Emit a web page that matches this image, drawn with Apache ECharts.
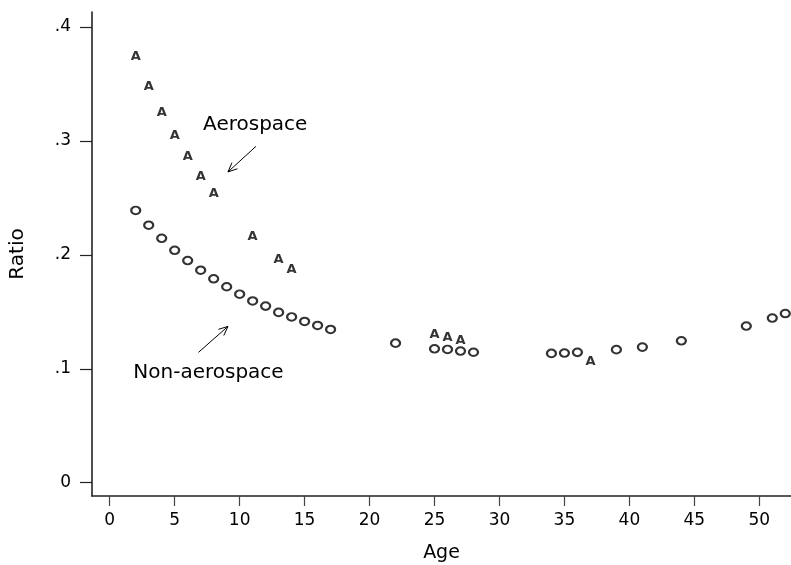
<!DOCTYPE html>
<html>
<head>
<meta charset="utf-8">
<script src="https://cdn.jsdelivr.net/npm/echarts@6/dist/echarts.min.js"></script>
<style>
html,body{margin:0;padding:0;background:#fff;}
#chart{width:791px;height:565px;}
</style>
</head>
<body>
<div id="chart"></div>
<script>
// ---- data ----
const aeroAge   = [2, 3, 4, 5, 6, 7, 8, 11, 13, 14, 25, 26, 27, 37];
const aeroRatio = [0.374, 0.348, 0.325, 0.305, 0.286, 0.269, 0.254, 0.216, 0.196, 0.187, 0.130, 0.127, 0.125, 0.106];

const nonAge   = [2, 3, 4, 5, 6, 7, 8, 9, 10, 11, 12, 13, 14, 15, 16, 17, 22, 25, 26, 27, 28, 34, 35, 36, 39, 41, 44, 49, 51, 52];
const nonRatio = [0.239, 0.226, 0.2145, 0.204, 0.195, 0.1865, 0.179, 0.172, 0.1655, 0.1595, 0.155, 0.1495, 0.1455, 0.1415, 0.138, 0.1345,
                  0.1225, 0.1175, 0.117, 0.1155, 0.1145, 0.1135, 0.1138, 0.1144, 0.1168, 0.119, 0.1245, 0.1375, 0.1445, 0.1485];

const xTicks = [0, 5, 10, 15, 20, 25, 30, 35, 40, 45, 50];
const xTickLabels = ['0', '5', '10', '15', '20', '25', '30', '35', '40', '45', '50'];
const yTicks = [0, 0.1, 0.2, 0.3, 0.4];
const yTickLabels = ['0', '.1', '.2', '.3', '.4'];

const annoLabels = ['Aerospace', 'Non-aerospace'];

// ---- annotation placement (data coordinates) ----
const annoTextAt  = [[11.2, 0.3143], [7.6, 0.0968]];
const annoArrowFrom = [[11.26, 0.2953], [6.83, 0.1144]];
const annoArrowTo   = [[9.1, 0.2728], [9.1, 0.1372]];

const FONT = 'DejaVu Sans';
const aeroData = aeroAge.map((a, i) => [a, aeroRatio[i]]);
const nonData = nonAge.map((a, i) => [a, nonRatio[i]]);
const annoData = annoLabels.map((t, i) => [i]);

function labelFor(ticks, labels, v) {
  const k = ticks.findIndex(t => Math.abs(t - v) < 1e-9);
  return k >= 0 ? labels[k] : '';
}

const chart = echarts.init(document.getElementById('chart'), null, {renderer: 'canvas'});
chart.setOption({
  animation: false,
  backgroundColor: '#fff',
  grid: {left: 92, right: 0, top: 12, bottom: 69, containLabel: false, outerBoundsMode: 'none'},
  xAxis: {
    type: 'value', min: -1.365, max: 52.44,
    name: 'Age', nameLocation: 'middle', nameGap: 48,
    nameTextStyle: {fontFamily: FONT, fontSize: 19, color: '#000'},
    axisLine: {show: true, onZero: false, lineStyle: {color: '#222', width: 1.6}},
    axisTick: {show: true, inside: false, length: 10, customValues: xTicks, lineStyle: {color: '#444', width: 1.2}},
    axisLabel: {show: true, margin: 16, customValues: xTicks, fontFamily: FONT, fontSize: 17, color: '#000',
      formatter: v => labelFor(xTicks, xTickLabels, v)},
    splitLine: {show: false}
  },
  yAxis: {
    type: 'value', min: -0.0117, max: 0.4132,
    name: 'Ratio', nameLocation: 'middle', nameGap: 64, nameRotate: 90,
    nameTextStyle: {fontFamily: FONT, fontSize: 20, color: '#000'},
    axisLine: {show: true, onZero: false, lineStyle: {color: '#222', width: 1.6}},
    axisTick: {show: true, inside: false, length: 12, customValues: yTicks, lineStyle: {color: '#222', width: 1.2}},
    axisLabel: {show: true, margin: 21, customValues: yTicks, fontFamily: FONT, fontSize: 17, color: '#000',
      formatter: v => labelFor(yTicks, yTickLabels, v)},
    splitLine: {show: false}
  },
  series: [
    {
      name: 'Non-aerospace', type: 'scatter', data: nonData, clip: false,
      symbol: 'circle', symbolSize: [9, 7.6],
      itemStyle: {color: 'rgba(255,255,255,0)', borderColor: '#000', borderWidth: 2.1}
    },
    {
      name: 'Aerospace', type: 'scatter', data: aeroData, clip: false,
      symbol: 'circle', symbolSize: 1,
      itemStyle: {color: 'rgba(0,0,0,0)'},
      label: {show: true, position: 'inside', formatter: 'A', fontFamily: FONT, fontSize: 13, fontWeight: 'bold',
        color: '#000', textBorderWidth: 0}
    },
    {
      type: 'custom', data: annoData, clip: false, silent: true,
      renderItem: function (params, api) {
        const i = api.value(0);
        const t = api.coord(annoTextAt[i]);
        const p0 = api.coord(annoArrowFrom[i]);
        const p1 = api.coord(annoArrowTo[i]);
        const ang = Math.atan2(p1[1] - p0[1], p1[0] - p0[0]);
        const hl = 10, ha = 0.42;
        const h1 = [p1[0] - hl * Math.cos(ang - ha), p1[1] - hl * Math.sin(ang - ha)];
        const h2 = [p1[0] - hl * Math.cos(ang + ha), p1[1] - hl * Math.sin(ang + ha)];
        return {
          type: 'group',
          children: [
            {type: 'line', shape: {x1: p0[0], y1: p0[1], x2: p1[0], y2: p1[1]}, style: {stroke: '#000', lineWidth: 1}},
            {type: 'polyline', shape: {points: [h1, p1, h2]}, style: {stroke: '#000', lineWidth: 1, fill: null}},
            {type: 'text', x: t[0], y: t[1],
              style: {text: annoLabels[i], fontFamily: FONT, fontSize: 20, fill: '#000', align: 'center', verticalAlign: 'middle'}}
          ]
        };
      }
    }
  ]
});
</script>
</body>
</html>
